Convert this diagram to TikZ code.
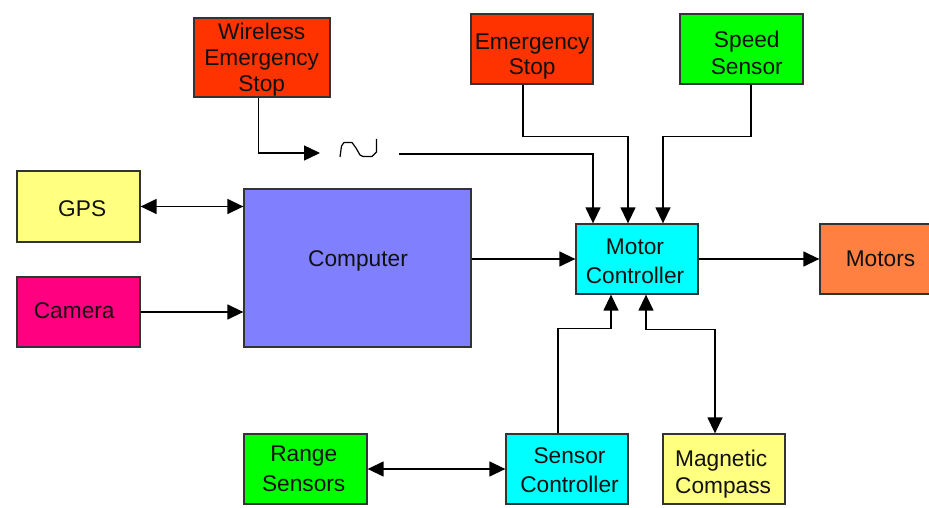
\documentclass[tikz,border=0pt]{standalone}
\usepackage{fontspec}
\setmainfont{Liberation Sans}
\usetikzlibrary{arrows.meta,calc}
\definecolor{cRed}{HTML}{FF3300}
\definecolor{cGreen}{HTML}{00FF00}
\definecolor{cYellow}{HTML}{FFFF80}
\definecolor{cMagenta}{HTML}{FF0080}
\definecolor{cComp}{HTML}{8080FF}
\definecolor{cCyan}{HTML}{00FFFF}
\definecolor{cOrange}{HTML}{FF8040}
\definecolor{cEdge}{HTML}{333333}
\definecolor{cText}{HTML}{111111}
\tikzset{
  blk/.style={draw=cEdge, line width=1.3pt, rectangle, inner sep=0pt,
    minimum width=122pt, minimum height=70pt},
  txt/.style={inner sep=0pt, align=center, text=cText,
    font=\fontsize{22.7}{#1}\selectfont},
  txt/.default=27,
  conn/.style={draw=black, line width=1.4pt},
  arr/.style={conn, -{Triangle[length=16pt,width=15pt]}},
  darr/.style={conn, {Triangle[length=16pt,width=15pt]}-{Triangle[length=16pt,width=15pt]}},
}
\begin{document}
\begin{tikzpicture}[x=1pt,y=-1pt]
\useasboundingbox[fill=white] (0,0) rectangle (929,508);

% top row
\node[blk, fill=cRed, minimum width=136pt, minimum height=79pt] (wes) at (262,57.5) {};
\node[txt=26.3] (wesT) at (261.7,59.8) {Wireless\\Emergency\\Stop};
\node[blk, fill=cRed] (es) at (532,49) {};
\node[txt=25] (esT) at (532.2,56.4) {Emergency\\Stop};
\node[blk, fill=cGreen, minimum width=123pt] (ss) at (741.5,49) {};
\node[txt=26.5] (ssT) at (746.8,53.1) {Speed\\Sensor};

% left column
\node[blk, fill=cYellow, minimum width=123pt, minimum height=71pt] (gps) at (78.5,206.5) {};
\node[txt] (gpsT) at (82.2,208.5) {GPS};
\node[blk, fill=cMagenta, minimum width=123pt] (cam) at (78.5,312) {};
\node[txt] (camT) at (74.2,310.5) {Camera};

% computer
\node[blk, fill=cComp, minimum width=227pt, minimum height=158pt] (comp) at (357.5,268) {};
\node[txt] (compT) at (358,261) {Computer};

% motor controller and motors
\node[blk, fill=cCyan] (mc) at (637,259) {};
\node[txt=29] (mcT) at (635,261.8) {Motor\\Controller};
\node[blk, fill=cOrange, minimum width=121pt] (mot) at (880.5,259) {};
\node[txt] (motT) at (880.5,258.5) {Motors};

% bottom row
\node[blk, fill=cGreen, minimum width=123pt] (rs) at (305.5,469) {};
\node[txt=29.5] (rsT) at (303.7,468.6) {Range\\Sensors};
\node[blk, fill=cCyan] (sc) at (567,469) {};
\node[txt=28.4] (scT) at (569.5,470) {Sensor\\Controller};
\node[blk, fill=cYellow] (mag) at (724,469) {};
\node[txt=26.5, align=left, anchor=west] (magT) at (675,474) {Magnetic\\Compass};

% wireless link symbol
\coordinate (tin) at (320,153);
\coordinate (tout) at (399,154);
\draw[conn, line width=1.2pt, line join=round] (340,157) -- (341.5,146) -- (344,142.5) -- (352,142.5)
  -- (356,148) -- (360,155) -- (363,156.5) -- (372,156.5) -- (376.5,152) -- (376.5,139);

% connectors
\draw[darr] (gps.east) -- (comp.west |- gps.east);
\draw[arr] (cam.east) -- (comp.west |- cam.east);
\draw[arr] (comp.east |- mc.west) -- (mc.west);
\draw[arr] (mc.east) -- (mot.west);
\draw[darr] (rs.east) -- (sc.west);

\draw[arr] ([xshift=-3.3pt]wes.south) |- (tin);
\draw[arr] (tout) -| ([xshift=-44pt]mc.north);
\draw[arr] ([xshift=-9pt]es.south) -- ++(0,52) -| ([xshift=-9pt]mc.north);
\draw[arr] ([xshift=9.5pt]ss.south) -- ++(0,52) -| ([xshift=26pt]mc.north);
\draw[arr] ([xshift=-9pt]sc.north) -- ++(0,-105) -| ([xshift=-26pt]mc.south);
\draw[darr] ([xshift=9pt]mc.south) -- ++(0,35) -| ([xshift=-9pt]mag.north);
\end{tikzpicture}
\end{document}
